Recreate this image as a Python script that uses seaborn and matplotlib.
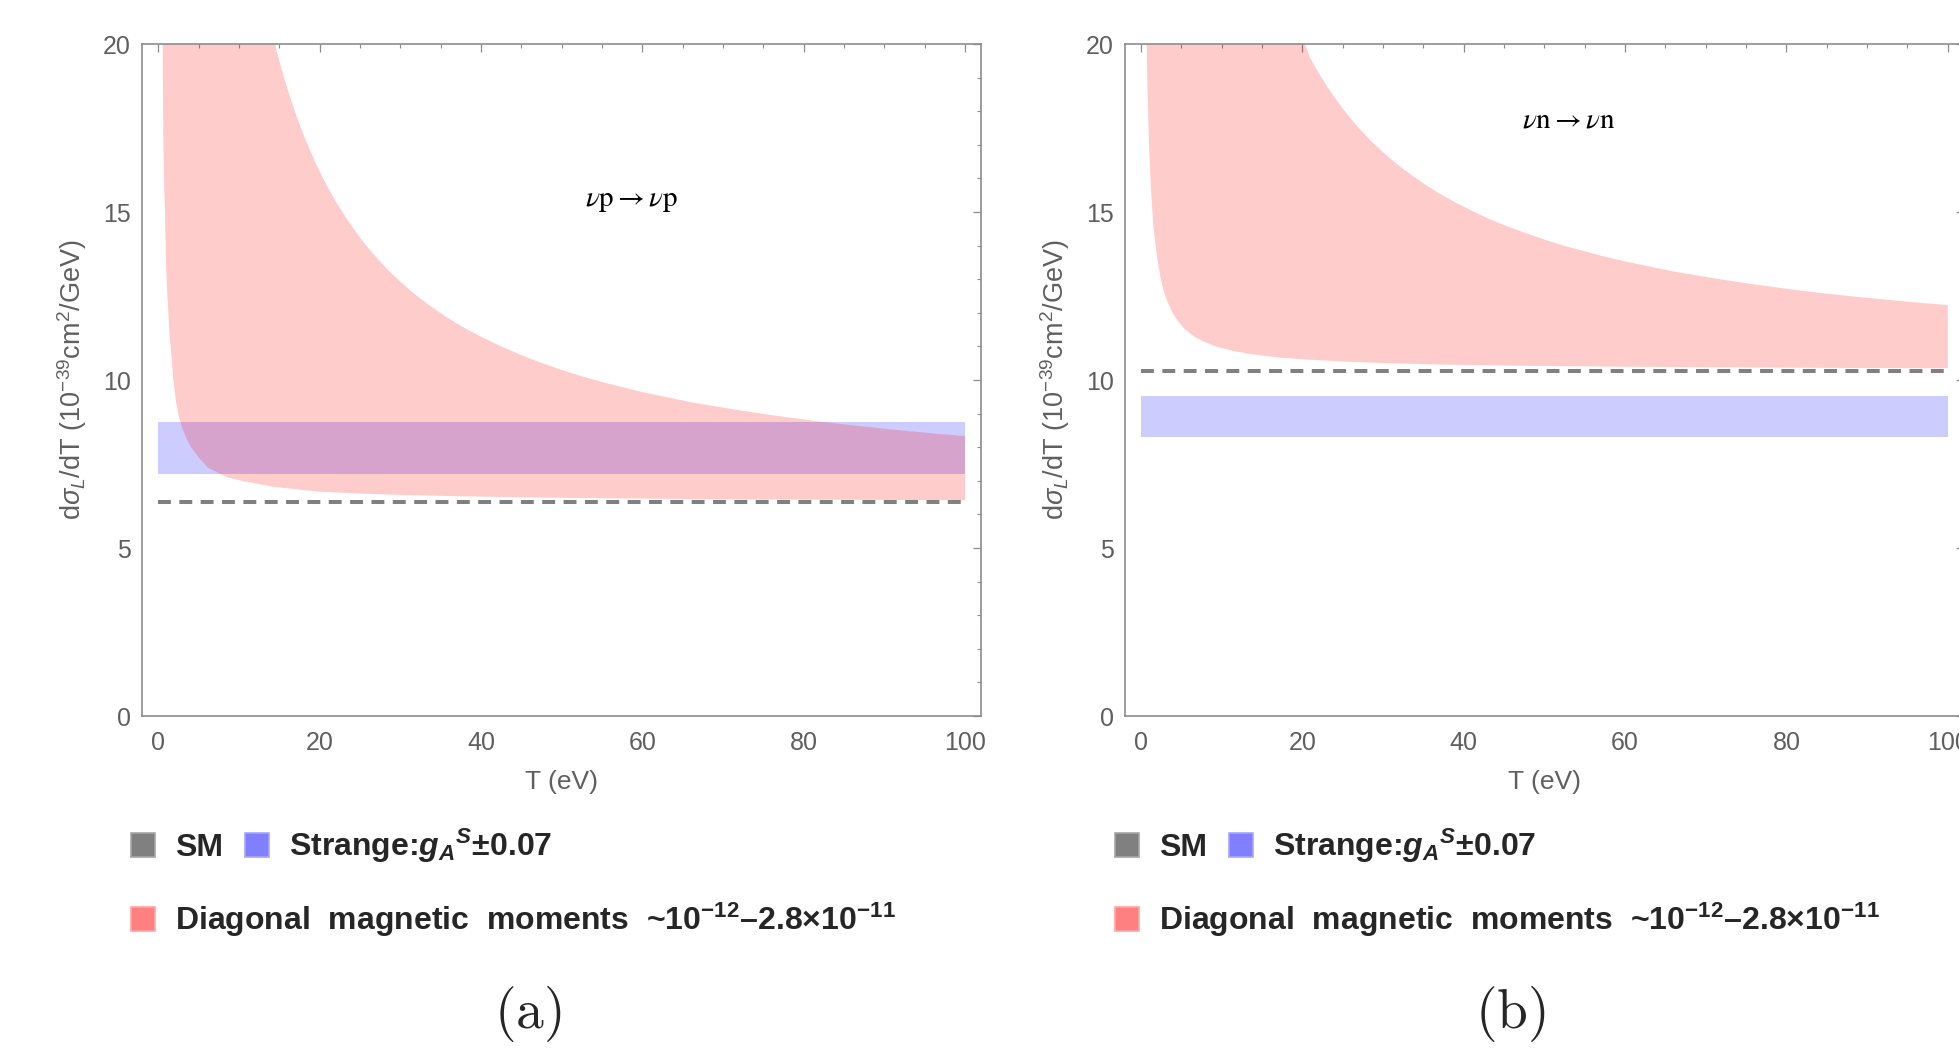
import numpy as np
import matplotlib
matplotlib.use("Agg")
import matplotlib.pyplot as plt
import seaborn as sns
from matplotlib.patches import Patch
from matplotlib.ticker import MultipleLocator

# ─── Data ────────────────────────────────────────────────────────────────────
T_RANGE = [0, 100]

# (a) nu p -> nu p
SM_P = 6.36
STRANGE_P = [7.21, 8.74]
T_LO_P = [0.54, 0.58, 0.62, 0.7, 0.83, 0.95, 1.1, 1.24, 1.4, 1.53, 1.7, 1.86,
          2.2, 2.6, 3.0, 3.5, 4.0, 5.0, 6.1, 7.2, 8.6, 10.5, 12.5, 14.3, 17,
          19.7, 25, 30, 37, 45, 55, 70, 85, 100]
LO_P = [20.0, 18.3, 17.2, 16.0, 14.9, 13.5, 12.6, 12.0, 11.3, 11.0, 10.5, 10.0,
        9.35, 8.85, 8.55, 8.25, 8.02, 7.7, 7.4, 7.26, 7.1, 6.99, 6.9, 6.82, 6.75,
        6.68, 6.62, 6.58, 6.54, 6.51, 6.48, 6.45, 6.44, 6.42]
T_UP_P = [14.45, 15, 15.5, 16, 16.5, 17, 17.5, 18, 18.75, 19.5, 20.25, 21, 22,
          23, 24, 25, 26.25, 27.5, 28.75, 30, 31.5, 33, 34.5, 36, 38, 40, 42.5,
          45, 47.5, 50, 52.5, 55, 57.5, 60, 63, 66, 69, 72, 75, 78, 81.5, 85,
          88.5, 92, 96, 100]
UP_P = [20.0, 19.49, 19.07, 18.67, 18.30, 17.95, 17.62, 17.30, 16.87, 16.46,
        16.09, 15.74, 15.31, 14.93, 14.57, 14.24, 13.86, 13.52, 13.21, 12.93,
        12.61, 12.33, 12.07, 11.83, 11.54, 11.29, 11.00, 10.74, 10.51, 10.30,
        10.11, 9.94, 9.79, 9.64, 9.49, 9.34, 9.22, 9.10, 8.99, 8.89, 8.78, 8.68,
        8.59, 8.50, 8.41, 8.33]

# (b) nu n -> nu n
SM_N = 10.28
STRANGE_N = [8.30, 9.51]
T_LO_N = [0.69, 0.75, 0.82, 0.9, 1.0, 1.12, 1.3, 1.53, 1.75, 2.02, 2.4, 2.8,
          3.18, 3.8, 4.42, 5.3, 6.48, 7.8, 9.38, 11.5, 13.9, 17, 20.5, 25,
          30.4, 37, 45, 57, 70, 85, 100]
LO_N = [20.0, 19.21, 18.45, 17.72, 16.98, 16.25, 15.43, 14.55, 14.11, 13.6,
        13.07, 12.67, 12.39, 12.04, 11.8, 11.54, 11.31, 11.14, 10.99, 10.86,
        10.76, 10.67, 10.61, 10.55, 10.50, 10.46, 10.43, 10.40, 10.38, 10.36,
        10.35]
T_UP_N = [20.3, 21, 21.75, 22.5, 23.25, 24, 25, 26, 27, 28, 29, 30, 31.25, 32.5,
          34, 35.5, 37, 39, 41, 43, 45, 47.5, 50, 52.5, 55, 57.5, 60, 63, 66,
          69, 72, 75, 78, 81.5, 85, 88.5, 92, 96, 100]
UP_N = [20.0, 19.57, 19.25, 18.95, 18.67, 18.41, 18.08, 17.78, 17.50, 17.24,
        17.00, 16.78, 16.52, 16.28, 16.02, 15.77, 15.55, 15.28, 15.04, 14.81,
        14.61, 14.39, 14.18, 13.99, 13.83, 13.67, 13.53, 13.38, 13.23, 13.11,
        12.99, 12.88, 12.78, 12.67, 12.57, 12.48, 12.40, 12.31, 12.23]

PANELS = [
    (r"$\mathrm{(a)}$", r"$\nu\mathrm{p}\rightarrow\nu\mathrm{p}$", (58.6, 15.36),
     SM_P, STRANGE_P, T_LO_P, LO_P, T_UP_P, UP_P),
    (r"$\mathrm{(b)}$", r"$\nu\mathrm{n}\rightarrow\nu\mathrm{n}$", (53.0, 17.74),
     SM_N, STRANGE_N, T_LO_N, LO_N, T_UP_N, UP_N),
]

LEGEND_ROW1 = ["SM", r"Strange:$\mathbf{g_A}^{\mathbf{S}}$±0.07"]
LEGEND_ROW2 = [r"Diagonal  magnetic  moments  ~$\mathsf{10^{-12}}$–2.8×$\mathsf{10^{-11}}$"]

# ─── Style ───────────────────────────────────────────────────────────────────
sns.set_theme(style="white")
plt.rcParams.update({
    "font.family": ["Liberation Sans", "DejaVu Sans"],
    "mathtext.fontset": "custom",
    "mathtext.rm": "Liberation Sans",
    "mathtext.it": "Liberation Sans:italic",
    "mathtext.bf": "Liberation Sans:bold:italic",
    "mathtext.sf": "Liberation Sans:bold",
})

SPINE = "#8c8c8c"
LABEL = "#5f5f5f"

fig = plt.figure(figsize=(19.59, 10.56), dpi=100)
fig.patch.set_facecolor("white")

AX_W = 839 / 1959
AX_H = 672 / 1056
AX_B = 1 - 716 / 1056
lefts = [142.2 / 1959, 1124.9 / 1959]
legend_x = [131 / 1959, 1115 / 1959]
caption_x = [528 / 1959, 1510 / 1959]

for i, (caption, proc, txt_xy, sm, strange, t_lo, lo, t_up, up) in enumerate(PANELS):
    ax = fig.add_axes([lefts[i], AX_B, AX_W, AX_H])

    # strange-quark band
    ax.fill_between(T_RANGE, [strange[0]] * 2, [strange[1]] * 2,
                    color="blue", alpha=0.2, lw=0, zorder=1)
    # magnetic moment region
    ax.fill(np.r_[t_lo, t_up[::-1]], np.r_[lo, up[::-1]],
            color="red", alpha=0.2, lw=0, zorder=2)
    # SM line
    sns.lineplot(x=T_RANGE, y=[sm, sm], color="#808080", lw=2.9,
                 linestyle=(0, (3.2, 2.1)), ax=ax, zorder=3)

    ax.set_xlim(-2, 102)
    ax.set_ylim(0, 20)
    ax.xaxis.set_major_locator(MultipleLocator(20))
    ax.xaxis.set_minor_locator(MultipleLocator(5))
    ax.yaxis.set_major_locator(MultipleLocator(5))
    ax.yaxis.set_minor_locator(MultipleLocator(1))
    ax.tick_params(which="both", direction="in", top=True, right=True,
                   color=SPINE, labelcolor=LABEL, labelsize=18)
    ax.tick_params(which="major", length=6, width=0.9)
    ax.tick_params(which="minor", length=3, width=0.8)
    ax.tick_params(axis="y", pad=8)
    ax.tick_params(axis="x", pad=11)
    for sp in ax.spines.values():
        sp.set_color(SPINE)
        sp.set_linewidth(1.2)

    ax.set_xlabel("T (eV)", fontsize=19, color=LABEL)
    ax.set_ylabel(r"d$\sigma_L$/dT (10$^{-39}$cm$^2$/GeV)", fontsize=19.5, color=LABEL)
    ax.xaxis.set_label_coords(0.5, -0.081)
    ax.yaxis.set_label_coords(-0.063, 0.5)

    ax.text(txt_xy[0], txt_xy[1], proc, ha="center", va="center",
            fontsize=21, math_fontfamily="stix", color="black")

    # legend rows
    h1 = [Patch(facecolor="#808080", edgecolor="#a6a6a6", lw=1.2),
          Patch(facecolor="#8080ff", edgecolor="#a6a6ff", lw=1.2)]
    h2 = [Patch(facecolor="#ff8080", edgecolor="#ffa6a6", lw=1.2)]
    leg_kw = dict(loc="center left", frameon=False, borderpad=0, borderaxespad=0,
                  handlelength=0.75, handleheight=0.75, handletextpad=0.63,
                  columnspacing=0.69,
                  prop={"family": "Liberation Sans", "weight": "bold", "size": 23})
    fig.legend(h1, LEGEND_ROW1, ncol=2,
               bbox_to_anchor=(legend_x[i], 1 - 846 / 1056), **leg_kw)
    fig.legend(h2, LEGEND_ROW2, ncol=1,
               bbox_to_anchor=(legend_x[i], 1 - 920 / 1056), **leg_kw)

    fig.text(caption_x[i], 1 - 1014 / 1056, caption, ha="center", va="center",
             fontsize=40, math_fontfamily="cm")

fig.savefig("out.png", dpi=100)
